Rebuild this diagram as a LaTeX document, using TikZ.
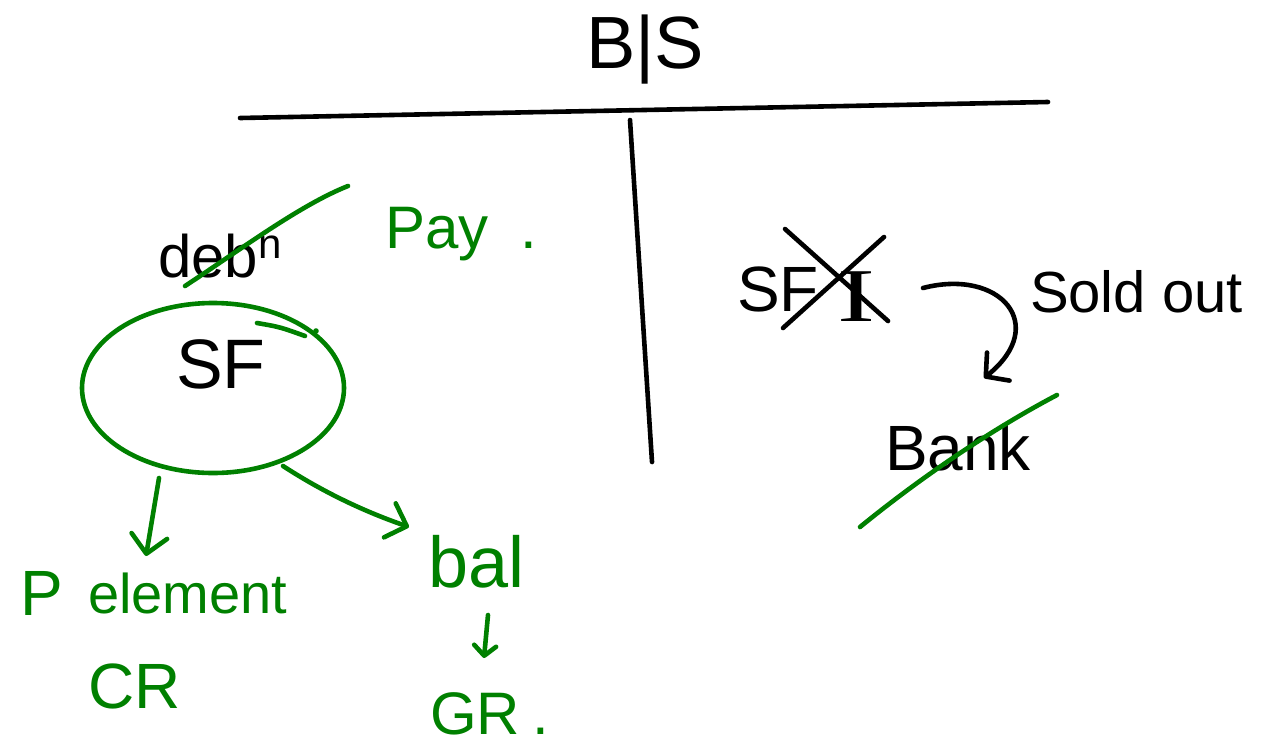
\documentclass[tikz,border=0pt]{standalone}
\usepackage{fontspec}
\setmainfont{Liberation Sans}
\newfontfamily\serifI{Liberation Serif}
\usetikzlibrary{arrows.meta,shapes.geometric}
\definecolor{inkgreen}{RGB}{0,128,0}
\begin{document}
\begin{tikzpicture}[x=0.5pt,y=-0.5pt,
  ink/.style={line width=2.3pt,line cap=round,line join=round},
  gink/.style={ink,draw=inkgreen},
  bink/.style={ink,draw=black},
  lbl/.style={inner sep=0pt,outer sep=0pt,anchor=base west},
  fs/.style={font=\fontsize{#1}{#1}\selectfont},
  bigtip/.style={-{Straight Barb[length=9pt,width=18pt,round]}},
  smalltip/.style={-{Straight Barb[length=5pt,width=11pt,round]}}]
\useasboundingbox (0,0) rectangle (1262,750);

% title and T-account
\node[lbl,anchor=center,fs=37] (bs) at (645,50) {B|S};
\coordinate (hl) at (240,118);
\coordinate (hr) at (1048,102);
\coordinate (vt) at (630,120);
\coordinate (vb) at (652,462);
\draw[bink] (hl) -- (hr);
\draw[bink] (vt) -- (vb);

% left side
\node[lbl,fs=30] (deb) at (158,277) {deb\textsuperscript{n}};
\draw[gink] (185,286) .. controls (240,250) and (300,205) .. (348,186);
\node[lbl,fs=30,text=inkgreen] (pay) at (385,248) {Pay\hspace{16pt}.};

\node[draw=inkgreen,line width=2.3pt,ellipse,minimum width=131pt,minimum height=85pt,inner sep=0pt] (sfc) at (213,388) {};
\node[lbl,anchor=center,fs=35] (sf) at (221,364) {SF};
\draw[gink] (257,323) .. controls (280,327) .. (305,336);
\fill[inkgreen] (316,331) circle (1.4pt);

\coordinate (a1s) at (159,478);
\coordinate (a1e) at (146,556);
\draw[gink,bigtip] (a1s) -- (a1e);
\coordinate (a2s) at (283,466);
\coordinate (a2e) at (409,527);
\draw[gink,bigtip] (a2s) .. controls (320,490) and (360,510) .. (a2e);

\node[lbl,fs=32,text=inkgreen] (p) at (20,615) {P};
\node[lbl,fs=28,text=inkgreen] (elem) at (88,613) {element};
\node[lbl,fs=32,text=inkgreen] (cr) at (88,708) {CR};

\node[lbl,fs=36,text=inkgreen] (bal) at (428,587) {bal};
\coordinate (b1) at (488,615);
\coordinate (b2) at (484,658);
\draw[gink,smalltip] (b1) -- (b2);
\node[lbl,fs=30,text=inkgreen] (gr) at (430,734) {GR\hspace{6pt}.};

% right side
\node[lbl,fs=32] (sfr) at (737,311) {SF};
\node[lbl,anchor=base,font=\serifI\fontsize{38}{38}\selectfont,xscale=1.5] (sfi) at (856,321) {I};
\draw[bink] (785,229) -- (888,321);
\draw[bink] (884,237) -- (783,328);

\coordinate (c1) at (923,288);
\coordinate (c2) at (984,378);
\draw[bink,-{Straight Barb[length=8pt,width=18pt,round]}] (c1) .. controls (1000,268) and (1050,325) .. (c2);
\node[lbl,fs=29] (sold) at (1030,312) {Sold out};

\node[lbl,fs=32] (bank) at (885,470) {Bank};
\draw[gink] (860,527) .. controls (930,470) and (1000,425) .. (1057,395);
\end{tikzpicture}
\end{document}
